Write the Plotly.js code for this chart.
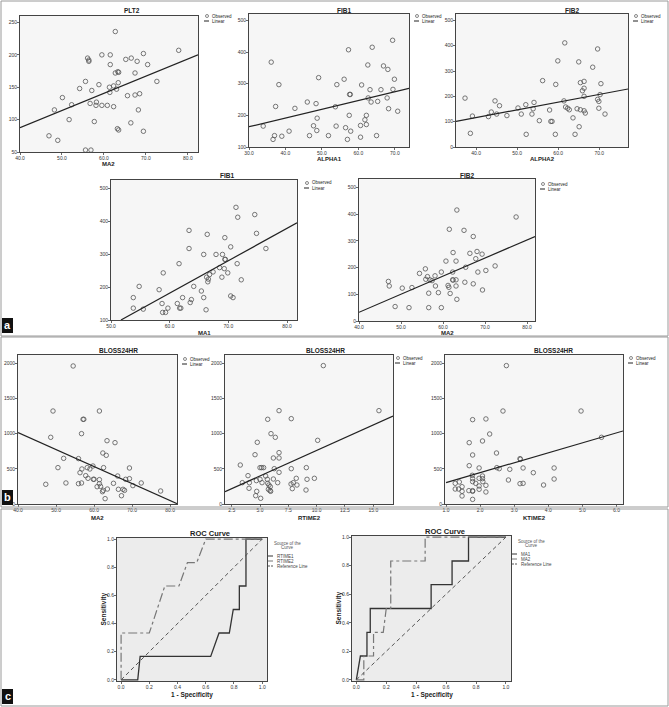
<!DOCTYPE html>
<html><head><meta charset="utf-8">
<script src="https://cdn.plot.ly/plotly-3.0.1.min.js"></script>
<style>html,body{margin:0;padding:0;background:#fff}#chart{width:669px;height:707px}</style>
</head><body><div id="chart"></div>
<script>
// ---------- DATA ----------
// a: PLT2 vs MA2
const plt2_ma2_x = [62.7,59.5,61.5,69.4,77.8,56.1,56.4,56.4,61.5,65.2,66.5,67.9,70.4,62.7,63.3,63.5,67.4,55.6,58.8,63.4,61.3,62.3,63.0,72.6,54.2,57.1,61.4,50.1,52.3,56.7,58.2,58.1,59.5,60.8,62.3,65.6,67.4,68.5,48.2,68.2,51.7,57.7,66.4,63.2,63.5,69.4,46.9,49.0,55.6,56.9];
const plt2_ma2_y = [236,200,200,202,207,195,192,190,185,193,195,190,185,172,174,173,172,159,154,157,150,152,147,159,148,145,142,134,123,125,127,122,122,122,120,137,138,140,115,115,100,97,95,86,84,82,75,68,53,53];
const plt2_fit_x = [40, 82.4];
const plt2_fit_y = [87.5, 200];
// a: FIB1 vs ALPHA1
const fib1_alpha1_x = [69.4,57.3,63.8,36.1,62.6,66.9,68.1,49.1,56.1,69.9,38.2,54.1,60.9,57.6,57.8,63.2,66.2,69.5,62.7,67.9,46.0,48.4,63.5,65.3,37.3,42.6,53.7,68.3,70.8,57.5,62.2,48.7,61.8,33.9,47.7,53.9,56.5,60.6,62.2,41.0,48.6,57.9,37.0,39.0,46.6,51.8,65.0,60.6,36.6,57.0];
const fib1_alpha1_y = [437,407,415,368,359,356,345,319,314,314,297,297,296,266,266,281,281,282,255,255,242,237,242,244,228,222,227,221,213,200,200,191,186,166,167,166,161,168,171,150,152,150,136,134,136,136,136,131,124,124];
const fib1_alpha1_fit_x = [30, 73.9];
const fib1_alpha1_fit_y = [164, 285];
// a: FIB2 vs ALPHA2
const fib2_alpha2_x = [61.6,69.6,59.9,65.0,68.4,37.3,56.2,59.4,65.4,66.3,66.3,65.9,70.4,44.6,61.4,66.3,69.6,69.9,70.2,45.7,54.1,52.1,50.2,43.7,53.9,61.8,62.3,62.7,64.6,65.4,66.3,69.9,57.9,39.1,43.0,45.0,47.5,51.0,53.6,63.6,66.6,71.4,55.4,58.2,58.5,65.1,38.6,52.2,59.3,64.1];
const fib2_alpha2_y = [411,387,340,336,315,193,262,247,254,259,232,222,250,182,182,200,188,180,207,163,176,167,154,138,151,158,153,147,151,147,143,153,146,122,120,130,124,130,130,115,134,130,104,101,101,80,54,50,50,50];
const fib2_alpha2_fit_x = [35.1, 77];
const fib2_alpha2_fit_y = [101, 229];
// a: FIB1 vs MA1
const fib1_ma1_x = [71.3,71.6,74.5,63.3,66.4,74.8,69.4,63.3,76.4,70.4,65.8,67.9,69.0,69.4,69.5,61.6,71.5,68.5,69.3,67.4,69.9,58.9,66.8,66.3,68.9,66.6,72.2,66.5,54.8,64.1,58.2,65.4,53.8,62.2,65.8,63.7,70.4,70.8,58.7,61.3,63.5,53.8,55.5,59.7,61.7,61.9,58.8,59.3,66.2];
const fib1_ma1_y = [442,412,420,372,360,363,350,317,317,322,299,299,299,284,284,271,271,259,256,246,243,243,238,230,230,224,222,216,202,202,192,188,168,168,168,162,173,168,150,150,153,136,133,136,136,136,123,123,131];
const fib1_ma1_fit_x = [51.7, 81.7];
const fib1_ma1_fit_y = [100, 395];
// a: FIB2 vs MA2
const fib2_ma2_x = [63.3,77.4,61.5,65.0,67.2,60.7,63.1,62.4,66.4,68.1,69.3,67.8,72.4,55.8,54.4,59.6,62.3,65.4,68.3,70.2,56.3,58.1,55.9,56.9,57.4,47.0,62.3,63.1,62.4,47.2,50.3,52.6,58.2,61.2,61.4,63.1,65.2,67.2,69.4,56.6,58.9,61.7,63.3,48.6,51.9,56.6,59.6];
const fib2_ma2_y = [415,389,343,339,316,224,224,256,253,260,250,233,206,195,178,183,183,201,183,189,166,169,156,154,151,148,154,154,153,131,123,125,131,133,126,131,145,139,116,104,106,103,81,54,50,50,50];
const fib2_ma2_fit_x = [40, 81.9];
const fib2_ma2_fit_y = [32.5, 316];
// b: BLOSS24HR vs MA2
const bloss_ma2_x = [54.5,49.2,61.4,57.1,57.3,56.7,63.4,65.5,48.6,62.3,63.2,52.0,55.9,50.5,56.8,58.2,58.9,59.7,62.5,69.3,56.3,57.8,58.4,59.8,60.0,61.4,66.2,68.3,69.3,47.3,52.6,55.9,56.7,61.4,65.1,72.4,70.2,60.8,61.7,66.4,67.6,68.0,62.2,62.4,63.5,67.2,77.5,62.9];
const bloss_ma2_y = [1962,1322,1322,1204,1204,1000,900,872,948,725,692,649,645,517,498,517,498,540,517,512,445,403,365,351,351,346,398,351,360,280,299,289,299,289,294,299,261,246,251,209,209,194,175,194,213,118,185,76];
const bloss_ma2_fit_x = [40, 81.8];
const bloss_ma2_fit_y = [1014, 5];
// b: BLOSS24HR vs RTIME2
const bloss_rtime2_x = [10.59,6.68,15.5,5.68,7.76,5.97,6.35,10.09,4.76,6.68,4.56,6.18,6.68,3.26,5.0,5.15,5.32,6.26,7.76,9.09,3.94,5.5,6.68,3.44,4.06,4.68,5.0,5.65,6.18,8.2,9.8,9.15,5.18,5.68,6.56,7.74,7.94,8.26,5.79,5.91,4.03,7.85,9.06,5.74,5.88,5.94,4.71,4.62,5.06];
const bloss_rtime2_y = [1967,1327,1327,1204,1213,1000,948,905,877,730,701,654,654,554,517,517,517,502,502,517,403,398,450,303,303,332,351,351,355,365,365,351,303,294,303,284,303,270,270,246,223,218,199,209,190,180,180,118,81];
const bloss_rtime2_fit_x = [1.91, 16.74];
const bloss_rtime2_fit_y = [175, 1251];
// b: BLOSS24HR vs KTIME2
const bloss_ktime2_x = [2.77,2.67,4.96,1.78,2.17,2.28,2.07,1.68,1.78,2.48,5.56,3.17,3.18,1.68,1.97,2.49,2.56,2.87,3.26,4.17,3.56,1.77,1.78,1.97,2.07,2.07,2.83,4.17,1.27,1.39,1.47,1.78,1.87,1.97,2.08,2.17,3.17,3.26,3.86,1.27,1.37,1.47,1.67,1.78,1.78,2.17,1.97,1.47,1.78];
const bloss_ktime2_y = [1967,1322,1322,1199,1209,995,896,872,697,725,948,645,635,545,512,517,502,493,512,512,445,408,360,365,398,360,341,355,294,313,246,318,294,256,318,265,289,294,270,213,213,180,190,190,180,171,209,114,66];
const bloss_ktime2_fit_x = [1.0, 6.19];
const bloss_ktime2_fit_y = [303, 1038];
// c: ROC curves
const roc_rtime1_x = [0,0.118,0.135,0.635,0.694,0.767,0.795,0.838,0.838,0.885,0.885,1.0];
const roc_rtime1_y = [0,0,0.167,0.167,0.333,0.333,0.5,0.5,0.667,0.667,1.0,1.0];
const roc_rtime2_x = [0,0,0.2,0.31,0.41,0.47,0.536,0.6,1.0];
const roc_rtime2_y = [0,0.333,0.333,0.667,0.667,0.833,0.833,1.0,1.0];
const roc_ma1_x = [0,0.027,0.071,0.071,0.093,0.093,0.5,0.5,0.64,0.64,0.75,0.75,1.0];
const roc_ma1_y = [0,0.167,0.167,0.333,0.333,0.5,0.5,0.667,0.667,0.833,0.833,1.0,1.0];
const roc_ma2_x = [0,0.05,0.05,0.115,0.115,0.18,0.2,0.23,0.23,0.46,0.46,1.0];
const roc_ma2_y = [0,0,0.167,0.167,0.333,0.333,0.5,0.5,0.833,0.833,1.0,1.0];
const ref_x = [0, 1];
const ref_y = [0, 1];
// tick labels
const ticks_40_80 = [40,50,60,70,80];
const ticks_30_70 = [30,40,50,60,70];
const ticks_40_70 = [40,50,60,70];
const ticks_50_80 = [50,60,70,80];
const ticks_50_250 = [50,100,150,200,250];
const ticks_100_500 = [100,200,300,400,500];
const ticks_0_500 = [0,100,200,300,400,500];
const ticks_0_2000 = [0,500,1000,1500,2000];
const ticks_rtime = [2.5,5.0,7.5,10.0,12.5,15.0];
const ticks_ktime = [1,2,3,4,5,6];
const ticks_roc = [0,0.2,0.4,0.6,0.8,1.0];

// ---------- LAYOUT ----------
const W = 669, H = 707;
const FONT = '"Liberation Sans", Arial, sans-serif';
const px = x => x / W, py = y => 1 - y / H;

const scatters = [
  {box:[20,198,16,152], xr:[40,82.4], yr:[50,260], xt:ticks_40_80, yt:ticks_50_250, title:'PLT2', tx:132, ty:11, xtitle:'MA2', xty:164, lg:[207,16], x:plt2_ma2_x, y:plt2_ma2_y, fx:plt2_fit_x, fy:plt2_fit_y},
  {box:[249,409,14,147], xr:[30,73.9], yr:[100,520], xt:ticks_30_70, yt:ticks_100_500, title:'FIB1', tx:344, ty:10, xtitle:'ALPHA1', xty:159, lg:[417,16], x:fib1_alpha1_x, y:fib1_alpha1_y, fx:fib1_alpha1_fit_x, fy:fib1_alpha1_fit_y},
  {box:[456,628,14,147], xr:[35.1,77], yr:[0,525], xt:ticks_40_70, yt:ticks_0_500, title:'FIB2', tx:572, ty:10, xtitle:'ALPHA2', xty:159, lg:[636,16], x:fib2_alpha2_x, y:fib2_alpha2_y, fx:fib2_alpha2_fit_x, fy:fib2_alpha2_fit_y},
  {box:[111,297,180,320], xr:[50,81.7], yr:[100,525], xt:ticks_50_80, yt:ticks_100_500, title:'FIB1', tx:227, ty:176, xtitle:'MA1', xty:333, lg:[307,183], x:fib1_ma1_x, y:fib1_ma1_y, fx:fib1_ma1_fit_x, fy:fib1_ma1_fit_y},
  {box:[359,535,179,321], xr:[40,81.9], yr:[0,531], xt:ticks_40_80, yt:ticks_0_500, title:'FIB2', tx:467, ty:176, xtitle:'MA2', xty:333, lg:[543,184], x:fib2_ma2_x, y:fib2_ma2_y, fx:fib2_ma2_fit_x, fy:fib2_ma2_fit_y},
  {box:[18,177,355,504], xr:[40,81.8], yr:[0,2118], xt:ticks_40_80, yt:ticks_0_2000, title:'BLOSS24HR', tx:118, ty:351, xtitle:'MA2', xty:518, lg:[185,359], x:bloss_ma2_x, y:bloss_ma2_y, fx:bloss_ma2_fit_x, fy:bloss_ma2_fit_y},
  {box:[225,393,355,504], xr:[1.91,16.74], yr:[0,2118], xt:ticks_rtime, yt:ticks_0_2000, title:'BLOSS24HR', tx:325, ty:351, xtitle:'RTIME2', xty:518, lg:[398,358], x:bloss_rtime2_x, y:bloss_rtime2_y, fx:bloss_rtime2_fit_x, fy:bloss_rtime2_fit_y},
  {box:[445,623,355,504], xr:[0.97,6.19], yr:[0,2118], xt:ticks_ktime, yt:ticks_0_2000, title:'BLOSS24HR', tx:553, ty:351, xtitle:'KTIME2', xty:518, lg:[631,358], x:bloss_ktime2_x, y:bloss_ktime2_y, fx:bloss_ktime2_fit_x, fy:bloss_ktime2_fit_y}
];
const rocs = [
  {box:[117,267,538,681], tx:210, ty:533, lgx:268, lgc:287, lgy:543,
   curves:[{x:roc_rtime1_x, y:roc_rtime1_y, name:'RTIME1'}, {x:roc_rtime2_x, y:roc_rtime2_y, name:'RTIME2'}]},
  {box:[352,511,536,681], tx:445, ty:531, lgx:512, lgc:531, lgy:541,
   curves:[{x:roc_ma1_x, y:roc_ma1_y, name:'MA1'}, {x:roc_ma2_x, y:roc_ma2_y, name:'MA2'}]}
];

const data = [], shapes = [], annotations = [];
const layout = {
  width: W, height: H, margin:{l:0,r:0,t:0,b:0}, showlegend:false,
  paper_bgcolor:'#ffffff', plot_bgcolor:'#f6f6f6', font:{family:FONT, color:'#222'},
  shapes, annotations
};

function fmt(v, d){ return v.toFixed(d); }
function axisBase(){
  return {showgrid:false, zeroline:false, showline:true, mirror:true, linecolor:'#444', linewidth:1,
    ticks:'outside', ticklen:2, tickwidth:0.8, tickcolor:'#444', fixedrange:true, ticklabelstandoff:-1,
    tickfont:{family:FONT, size:5, color:'#333'}};
}
function text(t, x, y, size, opts){
  annotations.push(Object.assign({text:t, x:px(x), y:py(y), xref:'paper', yref:'paper', showarrow:false,
    xanchor:'center', yanchor:'middle', font:{family:FONT, size:size, color:'#222'}}, opts||{}));
}

let n = 0;
scatters.forEach(s => {
  n++;
  const xa = n===1 ? 'xaxis' : 'xaxis'+n, ya = n===1 ? 'yaxis' : 'yaxis'+n;
  const xr = n===1 ? 'x' : 'x'+n, yr = n===1 ? 'y' : 'y'+n;
  layout[xa] = Object.assign(axisBase(), {domain:[px(s.box[0]), px(s.box[1])], range:s.xr, anchor:yr,
    tickvals:s.xt, ticktext:s.xt.map(v=>fmt(v,1))});
  layout[ya] = Object.assign(axisBase(), {domain:[py(s.box[3]), py(s.box[2])], range:s.yr, anchor:xr,
    tickvals:s.yt, ticktext:s.yt.map(v=>fmt(v,0))});
  data.push({type:'scatter', mode:'markers', x:s.x, y:s.y, xaxis:xr, yaxis:yr, cliponaxis:true,
    marker:{symbol:'circle-open', size:4.5, color:'#555', line:{width:0.8, color:'#555'}}});
  data.push({type:'scatter', mode:'lines', x:s.fx, y:s.fy, xaxis:xr, yaxis:yr,
    line:{color:'#222', width:1.2}});
  text('<b>'+s.title+'</b>', s.tx, s.ty, 6.5);
  text('<b>'+s.xtitle+'</b>', (s.box[0]+s.box[1])/2, s.xty, 6);
  // legend
  const [lx, ly] = s.lg;
  shapes.push({type:'circle', xref:'paper', yref:'paper', x0:px(lx-1.5), x1:px(lx+1.5), y0:py(ly+1.5), y1:py(ly-1.5),
    line:{color:'#555', width:0.7}});
  shapes.push({type:'line', xref:'paper', yref:'paper', x0:px(lx-3), x1:px(lx+2), y0:py(ly+5), y1:py(ly+5),
    line:{color:'#222', width:1}});
  text('Observed', lx+3, ly, 4.5, {xanchor:'left'});
  text('Linear', lx+3, ly+5, 4.5, {xanchor:'left'});
});

rocs.forEach(r => {
  n++;
  const xa = 'xaxis'+n, ya = 'yaxis'+n, xr = 'x'+n, yr = 'y'+n;
  layout[xa] = Object.assign(axisBase(), {domain:[px(r.box[0]), px(r.box[1])], range:[-0.029,1.034], anchor:yr,
    tickvals:ticks_roc, ticktext:ticks_roc.map(v=>fmt(v,1))});
  layout[ya] = Object.assign(axisBase(), {domain:[py(r.box[3]), py(r.box[2])], range:[-0.008,1.008], anchor:xr,
    tickvals:ticks_roc, ticktext:ticks_roc.map(v=>fmt(v,1))});
  shapes.push({type:'rect', xref:xr+' domain', yref:yr+' domain', x0:0, x1:1, y0:0, y1:1, layer:'below',
    fillcolor:'#ececec', line:{width:0}});
  data.push({type:'scatter', mode:'lines', x:r.curves[0].x, y:r.curves[0].y, xaxis:xr, yaxis:yr,
    line:{color:'#333', width:1.3}});
  data.push({type:'scatter', mode:'lines', x:r.curves[1].x, y:r.curves[1].y, xaxis:xr, yaxis:yr,
    line:{color:'#777', width:1.2, dash:'dashdot'}});
  data.push({type:'scatter', mode:'lines', x:ref_x, y:ref_y, xaxis:xr, yaxis:yr,
    line:{color:'#555', width:1, dash:'4px,3px'}});
  text('<b>ROC Curve</b>', r.tx, r.ty, 7.5);
  text('<b>1 - Specificity</b>', (r.box[0]+r.box[1])/2, 695, 6.5);
  text('<b>Sensitivity</b>', r.box[0]-14, (r.box[2]+r.box[3])/2, 6.5, {textangle:-90});
  // legend
  text('Source of the', r.lgc, r.lgy, 4.5, {font:{family:FONT, size:4.5, color:'#555'}});
  text('Curve', r.lgc, r.lgy+4.5, 4.5, {font:{family:FONT, size:4.5, color:'#555'}});
  const names = [r.curves[0].name, r.curves[1].name, 'Reference Line'];
  const styles = [{color:'#333', width:1}, {color:'#777', width:1}, {color:'#555', width:1, dash:'2px,1px'}];
  names.forEach((nm, i) => {
    const yy = r.lgy + 13 + i*5;
    shapes.push({type:'line', xref:'paper', yref:'paper', x0:px(r.lgx), x1:px(r.lgx+5), y0:py(yy), y1:py(yy), line:styles[i]});
    text(nm, r.lgx+7, yy, 4.5, {xanchor:'left', font:{family:FONT, size:4.5, color:'#444'}});
  });
});

// panel frames and labels
[[1,1,668,336],[1,337,668,507],[1,509,668,706]].forEach(b => {
  shapes.push({type:'rect', xref:'paper', yref:'paper', x0:px(b[0]), x1:px(b[2]), y0:py(b[3]), y1:py(b[1]),
    line:{color:'#9a9a9a', width:1}, fillcolor:'rgba(0,0,0,0)'});
});
[['a',318],['b',490],['c',689]].forEach(l => {
  shapes.push({type:'rect', xref:'paper', yref:'paper', x0:px(2), x1:px(13), y0:py(l[1]+15), y1:py(l[1]),
    fillcolor:'#111', line:{width:0}});
  text('<b>'+l[0]+'</b>', 7.5, l[1]+7, 11, {font:{family:FONT, size:11, color:'#fff'}});
});

Plotly.newPlot('chart', data, layout, {staticPlot:true, displayModeBar:false});
</script></body></html>
